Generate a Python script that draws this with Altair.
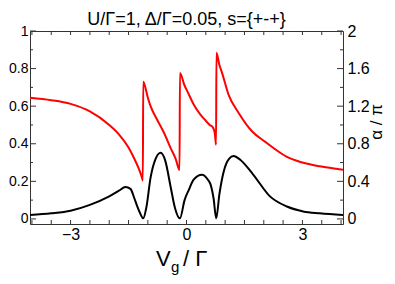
import altair as alt
import pandas as pd

# ---- data ----
vg_black = [-4.05, -3.5, -3.0, -2.5, -2.0, -1.75, -1.58, -1.45, -1.35, -1.28, -1.2, -1.12,
            -1.04, -0.93, -0.8, -0.67, -0.55, -0.41, -0.3, -0.17, -0.05, 0.06, 0.19, 0.40,
            0.55, 0.62, 0.70, 0.77, 0.85, 0.96, 1.1, 1.22, 1.39, 1.73, 2.16, 2.6, 3.02, 3.45, 4.05]
g_black = [0.021, 0.03, 0.044, 0.075, 0.12, 0.15, 0.17, 0.16, 0.11, 0.07, 0.03, 0.003,
           0.06, 0.22, 0.32, 0.352, 0.31, 0.17, 0.06, 0.003, 0.1, 0.155, 0.21, 0.235,
           0.21, 0.185, 0.11, 0.003, 0.13, 0.25, 0.32, 0.335, 0.315, 0.235, 0.12, 0.066, 0.04, 0.03, 0.021]

vg_red = [-4.05, -3.5, -3.0, -2.5, -2.0, -1.75, -1.5, -1.35, -1.24, -1.16, -1.13, -1.12,
          -1.0, -0.93, -0.76, -0.58, -0.41, -0.28, -0.18, -0.17, -0.05, 0.02, 0.19, 0.36,
          0.49, 0.60, 0.68, 0.73, 0.765, 0.775, 0.85, 0.92, 1.09, 1.35, 1.7, 2.04, 2.3, 2.6,
          3.0, 3.45, 4.05]
alpha_red = [1.29, 1.264, 1.224, 1.144, 1.0, 0.9, 0.76, 0.64, 0.54, 0.45, 0.41, 1.46,
             1.29, 1.2, 1.056, 0.914, 0.754, 0.64, 0.52, 1.554, 1.42, 1.36, 1.216, 1.11,
             1.05, 1.0, 0.976, 0.92, 0.79, 1.768, 1.64, 1.554, 1.32, 1.128, 0.93, 0.82, 0.74,
             0.66, 0.6, 0.56, 0.524]

x_label_vals = [-3, 0, 3]
x_tick_vals = [-4, -3.5, -3, -2.5, -2, -1.5, -1, -0.5, 0, 0.5, 1, 1.5, 2, 2.5, 3, 3.5, 4]
left_major = [0, 0.2, 0.4, 0.6, 0.8, 1.0]
left_minor = [0.1, 0.3, 0.5, 0.7, 0.9]
right_labels = [0, 0.4, 0.8, 1.2, 1.6, 2.0]

title_text = "U/\u0393=1, \u0394/\u0393=0.05, s={+-+}"

# ---- layout ----
W, H = 313, 193
XDOM = [-4.05, 4.05]
YL = [-0.027, 1.0]
YR = [-0.054, 2.0]
FONT = "Liberation Sans"

df_black = pd.DataFrame({"vg": vg_black, "g": g_black})
df_red = pd.DataFrame({"vg": vg_red, "a": alpha_red})
df_xt = pd.DataFrame({"v": x_tick_vals})
df_maj = pd.DataFrame({"v": left_major})
df_min = pd.DataFrame({"v": left_minor})
one = pd.DataFrame({"k": [0]})

xscale = alt.Scale(domain=XDOM, nice=False, zero=False)

black = alt.Chart(df_black).mark_line(color="black", strokeWidth=2, interpolate="monotone").encode(
    x=alt.X("vg:Q", scale=xscale,
            axis=alt.Axis(values=x_label_vals, ticks=False, domain=False, grid=False, title=None,
                          labelFontSize=16, labelFont=FONT, labelColor="black", labelPadding=2)),
    y=alt.Y("g:Q", scale=alt.Scale(domain=YL, nice=False, zero=False),
            axis=alt.Axis(orient="left", values=left_major, format="~g", ticks=False, domain=False,
                          grid=False, title=None, labelFontSize=14, labelFont=FONT,
                          labelColor="black", labelPadding=2)),
)

red = alt.Chart(df_red).mark_line(color="#ff0000", strokeWidth=2, interpolate="monotone").encode(
    x=alt.X("vg:Q", scale=xscale, axis=None),
    y=alt.Y("a:Q", scale=alt.Scale(domain=YR, nice=False, zero=False),
            axis=alt.Axis(orient="right", values=right_labels, format="~g", ticks=False, domain=False,
                          grid=False, title=None, labelFontSize=16, labelFont=FONT,
                          labelColor="black", labelPadding=4)),
)

tick_color = "#333333"

xt_bottom = alt.Chart(df_xt).mark_rule(color=tick_color, strokeWidth=1).encode(
    x=alt.X("v:Q", scale=xscale, axis=None), y=alt.value(H), y2=alt.value(H - 4))
xt_top = alt.Chart(df_xt).mark_rule(color=tick_color, strokeWidth=1).encode(
    x=alt.X("v:Q", scale=xscale, axis=None), y=alt.value(0), y2=alt.value(4))


def ytick(df, x0, x1):
    return alt.Chart(df).mark_rule(color=tick_color, strokeWidth=1).encode(
        y=alt.Y("v:Q", scale=alt.Scale(domain=YL, nice=False, zero=False), axis=None),
        x=alt.value(x0), x2=alt.value(x1))


yl_maj = ytick(df_maj, 0, 6)
yl_min = ytick(df_min, 0, 3)
yr_maj = ytick(df_maj, W, W - 6)
yr_min = ytick(df_min, W, W - 3)


def label(txt, x, y, size, align="left", angle=0, baseline="alphabetic"):
    kw = dict(text=txt, fontSize=size, font=FONT, color="black", align=align, baseline=baseline)
    if angle:
        kw["angle"] = angle
    return alt.Chart(one).mark_text(**kw).encode(x=alt.value(x), y=alt.value(y))


t_title = label(title_text, 156.5, -6, 18, align="center")
t_v = label("V", 126, 235, 22)
t_g = label("g", 141, 241, 15)
t_rest = label("/ \u0393", 153, 235, 22)
t_alpha = label("\u03b1 / \u03c0", 352, 91, 17, align="center", angle=270)

chart = alt.layer(
    black, red, xt_bottom, xt_top, yl_maj, yl_min, yr_maj, yr_min,
    t_title, t_v, t_g, t_rest, t_alpha,
).resolve_scale(y="independent").resolve_axis(x="independent").properties(
    width=W, height=H,
    autosize=alt.AutoSizeParams(type="none"),
    padding={"left": 22, "top": 23, "right": 44, "bottom": 52},
).configure_view(stroke="#333333", strokeWidth=1)

chart.save("out.html", embed_options={"renderer": "svg", "actions": False})
